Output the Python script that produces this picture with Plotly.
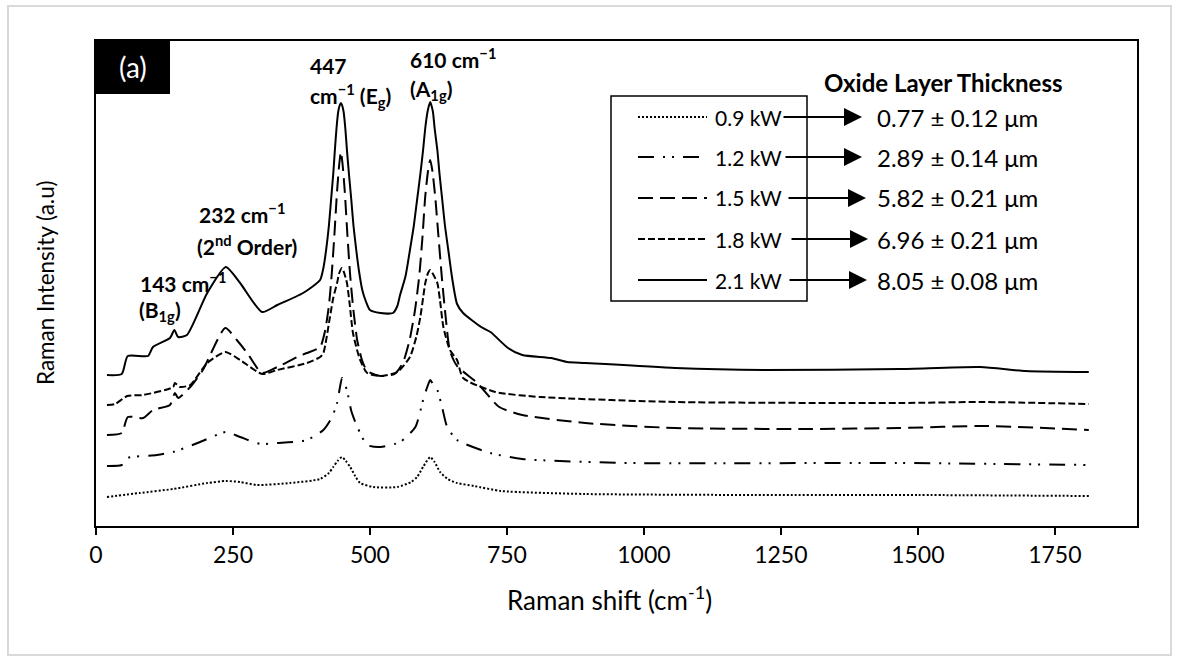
import plotly.graph_objects as go

# ---------------- data ----------------
shift_09 = [20, 80, 141, 203, 237, 263, 294, 354, 409, 425, 433, 441, 449, 456, 464, 473, 482, 506, 550,
            575, 586, 598, 610, 618, 628, 642, 659, 690, 740, 893, 1200, 1500, 1812]
int_09 = [29, 33, 37, 43, 45, 44, 41, 43, 47, 53, 59, 65, 69, 65, 59, 50, 43, 39, 39,
          44, 49, 60, 69, 64, 54, 47, 43, 40, 35, 32, 31, 31, 30]

shift_12 = [20, 47, 57, 111, 141, 190, 237, 263, 300, 331, 385, 415, 430, 440, 445, 449, 453, 458, 466,
            477, 495, 519, 555, 583, 597, 604, 610, 615, 623, 632, 641, 659, 720, 778, 975, 1466, 1812]
int_12 = [60, 61, 68, 71, 74, 84, 94, 89, 82, 83, 86, 96, 108, 123, 138, 148, 143, 136, 115,
          99, 81, 79, 84, 99, 126, 138, 146, 142, 136, 118, 99, 86, 73, 67, 63, 63, 61]

shift_15 = [20, 47, 58, 86, 104, 135, 144, 150, 172, 195, 236, 257, 276, 303, 331, 367, 385, 409, 418,
            425, 430, 435, 440, 444, 447, 450, 454, 459, 464, 470, 477, 486, 495, 519, 545, 560, 572,
            582, 590, 596, 601, 606, 610, 614, 619, 625, 631, 638, 646, 659, 696, 736, 778, 893,
            1057, 1302, 1466, 1624, 1812]
int_15 = [91, 93, 109, 108, 116, 121, 133, 128, 139, 156, 198, 186, 173, 153, 159, 169, 173, 179, 195,
          220, 250, 290, 335, 362, 374, 362, 335, 290, 250, 215, 185, 165, 155, 150, 152, 163, 185,
          215, 250, 290, 330, 355, 366, 355, 330, 290, 250, 210, 175, 160, 143, 119, 111, 103,
          98, 97, 98, 100, 96]

shift_18 = [20, 35, 57, 86, 141, 144, 153, 172, 203, 236, 263, 303, 331, 385, 409, 415, 427, 433, 440,
            444, 449, 453, 458, 463, 469, 482, 495, 519, 550, 573, 585, 592, 597, 601, 606, 610, 614,
            623, 628, 634, 646, 659, 670, 729, 811, 1057, 1466, 1614, 1812]
int_18 = [121, 122, 130, 131, 139, 143, 139, 141, 163, 174, 166, 152, 156, 163, 169, 173, 209, 228, 243,
          253, 258, 253, 243, 222, 193, 166, 153, 150, 154, 169, 190, 209, 228, 243, 253, 256, 253,
          243, 225, 199, 176, 166, 148, 134, 129, 124, 123, 124, 122]

shift_21 = [20, 47, 58, 95, 104, 135, 143, 150, 166, 203, 237, 263, 303, 331, 378, 409, 415, 420, 425,
            429, 433, 436, 439, 442, 445, 447, 449, 452, 455, 458, 462, 466, 470, 475, 480, 486, 493,
            500, 519, 542, 550, 555, 565, 573, 580, 586, 592, 597, 601, 605, 608, 610, 612, 615, 618,
            623, 627, 632, 637, 643, 650, 659, 670, 703, 720, 752, 778, 831, 860, 893, 1057, 1220,
            1466, 1614, 1697, 1812]
int_21 = [151, 152, 170, 170, 179, 188, 196, 189, 191, 233, 259, 243, 214, 221, 233, 246, 258, 276, 300,
          326, 352, 376, 398, 414, 421, 423, 421, 414, 398, 376, 350, 326, 300, 276, 255, 236, 224,
          216, 213, 213, 220, 231, 250, 276, 300, 326, 352, 376, 398, 414, 421, 424, 421, 414, 398,
          376, 352, 326, 300, 276, 248, 222, 213, 199, 194, 178, 171, 168, 164, 163, 158, 156,
          157, 159, 155, 154]

powers = ["0.9 kW", "1.2 kW", "1.5 kW", "1.8 kW", "2.1 kW"]
thickness = ["0.77 ± 0.12 μm", "2.89 ± 0.14 μm", "5.82 ± 0.21 μm", "6.96 ± 0.21 μm", "8.05 ± 0.08 μm"]
x_ticks = [0, 250, 500, 750, 1000, 1250, 1500, 1750]

series = [(shift_09, int_09), (shift_12, int_12), (shift_15, int_15), (shift_18, int_18), (shift_21, int_21)]
dashes = ["2px,2px", "16px,9px,2px,7px,2px,9px", "15px,7px", "7px,3px", "solid"]

FONT = "Lato"

# ---------------- layout helpers (pixel -> paper) ----------------
L, R, T, B = 96, 1137, 41, 526
def px(x):
    return (x - L) / (R - L)
def py(y):
    return (B - y) / (B - T)

fig = go.Figure()
for (xs, ys), name, d in zip(series, powers, dashes):
    fig.add_trace(go.Scatter(x=xs, y=ys, mode="lines", name=name, showlegend=False,
                             line=dict(color="black", width=2, dash=d, shape="spline", smoothing=0.6)))

shapes = []
annotations = []

# outer light-gray chart frame
shapes.append(dict(type="rect", xref="paper", yref="paper", x0=px(8), x1=px(1171), y0=py(655), y1=py(6),
                   line=dict(color="#d9d9d9", width=2), layer="below"))
# (a) label box
shapes.append(dict(type="rect", xref="paper", yref="paper", x0=px(96), x1=px(170), y0=py(94), y1=py(40),
                   fillcolor="black", line=dict(width=0)))
annotations.append(dict(xref="paper", yref="paper", x=px(133), y=py(67), text="(a)", showarrow=False,
                        font=dict(family=FONT, size=28, color="white"), xanchor="center", yanchor="middle"))

# legend box
shapes.append(dict(type="rect", xref="paper", yref="paper", x0=px(611), x1=px(807), y0=py(301), y1=py(96),
                   line=dict(color="black", width=1.5), fillcolor="rgba(0,0,0,0)"))
rows = [117, 157, 198, 239, 280]
tips = [862, 862, 866, 868, 867]
tails = [782, 784, 787, 790, 788]
for i, yy in enumerate(rows):
    shapes.append(dict(type="line", xref="paper", yref="paper", x0=px(638), x1=px(707), y0=py(yy), y1=py(yy),
                       line=dict(color="black", width=2, dash=dashes[i])))
    annotations.append(dict(xref="paper", yref="paper", x=px(713), y=py(yy), text=powers[i], showarrow=False,
                            xanchor="left", yanchor="middle", font=dict(family=FONT, size=21, color="black")))
    annotations.append(dict(xref="paper", yref="paper", x=px(tips[i]), y=py(yy), text="", showarrow=True,
                            ax=-(tips[i] - tails[i]), ay=0, axref="pixel", ayref="pixel",
                            arrowhead=2, arrowsize=2.0, arrowwidth=1.8, arrowcolor="black", standoff=0))
    annotations.append(dict(xref="paper", yref="paper", x=px(875), y=py(yy), text=thickness[i], showarrow=False,
                            xanchor="left", yanchor="middle", font=dict(family=FONT, size=24, color="black")))
annotations.append(dict(xref="paper", yref="paper", x=px(822), y=py(82), text="<b>Oxide Layer Thickness</b>",
                        showarrow=False, xanchor="left", yanchor="middle",
                        font=dict(family=FONT, size=24, color="black")))

# peak labels
peak_lines = [
    (308, 65, "<b>447</b>"),
    (308, 95, "<b>cm<sup>−1</sup> (E<sub>g</sub>)</b>"),
    (408, 58, "<b>610 cm<sup>−1</sup></b>"),
    (408, 90, "<b>(A<sub>1g</sub>)</b>"),
    (197, 213, "<b>232 cm<sup>−1</sup></b>"),
    (195, 245, "<b>(2<sup>nd</sup> Order)</b>"),
    (138, 282, "<b>143 cm<sup>−1</sup></b>"),
    (137, 311, "<b>(B<sub>1g</sub>)</b>"),
]
for xx, yy, t in peak_lines:
    annotations.append(dict(xref="paper", yref="paper", x=px(xx), y=py(yy), text=t, showarrow=False,
                            xanchor="left", yanchor="middle", font=dict(family=FONT, size=21, color="black")))

# axis titles
annotations.append(dict(xref="paper", yref="paper", x=px(609), y=py(598), text="Raman shift (cm<sup>-1</sup>)",
                        showarrow=False, xanchor="center", yanchor="middle",
                        font=dict(family=FONT, size=26, color="black")))
annotations.append(dict(xref="paper", yref="paper", x=px(45), y=py(283), text="Raman Intensity (a.u)",
                        showarrow=False, xanchor="center", yanchor="middle", textangle=-90,
                        font=dict(family=FONT, size=22.5, color="black")))

fig.update_layout(
    width=1179, height=662,
    margin=dict(l=L, r=1179 - R, t=T, b=662 - B),
    paper_bgcolor="white", plot_bgcolor="white",
    showlegend=False,
    shapes=shapes, annotations=annotations,
    font=dict(family=FONT, color="black"),
    xaxis=dict(range=[0, 1900], tickvals=x_ticks, ticktext=[str(v) for v in x_ticks],
               ticks="outside", ticklen=7, tickwidth=1.5, tickcolor="black",
               showline=True, linewidth=2, linecolor="black", mirror=True,
               showgrid=False, zeroline=False, tickfont=dict(family=FONT, size=23, color="black")),
    yaxis=dict(range=[0, 485], showticklabels=False, ticks="",
               showline=True, linewidth=2, linecolor="black", mirror=True,
               showgrid=False, zeroline=False),
)

fig.write_html("out.html")
